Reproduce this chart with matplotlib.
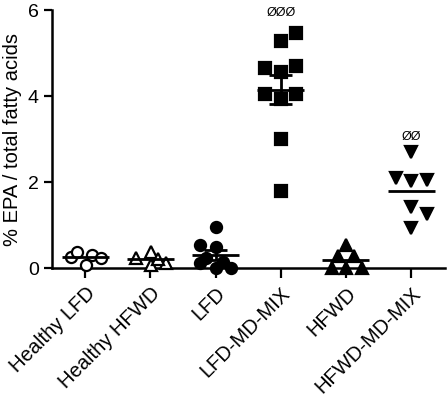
import matplotlib
matplotlib.use("Agg")
import matplotlib.pyplot as plt
import numpy as np

plt.rcParams['font.family'] = ['Liberation Sans', 'DejaVu Sans']

# groups and individual values (% EPA / total fatty acids)
groups = ['Healthy LFD', 'Healthy HFWD', 'LFD', 'LFD-MD-MIX', 'HFWD', 'HFWD-MD-MIX']
healthy_lfd = [0.27, 0.39, 0.08, 0.31, 0.23]
healthy_hfwd = [0.25, 0.39, 0.08, 0.12, 0.22]
lfd = [0.97, 0.54, 0.50, 0.23, 0.15, 0.12, 0.0, 0.0]
lfd_md_mix = [5.46, 5.29, 4.65, 4.57, 4.71, 4.06, 4.06, 3.93, 3.00, 1.80]
hfwd = [0.54, 0.29, 0.29, 0.0, 0.0, 0.0]
hfwd_md_mix = [2.71, 2.10, 2.03, 2.05, 1.43, 1.26, 0.93]
# horizontal scatter offsets (in category units) to mimic the dot layout
offsets = [
    [-0.22, -0.12, 0.01, 0.11, 0.24],
    [-0.22, 0.01, 0.01, 0.24, 0.12],
    [0.01, -0.24, 0.01, -0.14, 0.11, -0.24, 0.01, 0.24],
    [0.24, 0.0, -0.24, 0.0, 0.24, -0.24, 0.24, 0.0, 0.0, 0.0],
    [0.0, -0.12, 0.12, -0.22, 0.0, 0.24],
    [0.0, -0.23, 0.0, 0.24, 0.0, 0.24, 0.0],
]
stars = ['', '', '', 'ØØØ', '', 'ØØ']
star_y = [0, 0, 0, 5.93, 0, 3.04]
show_sem = [False, False, True, True, False, False]

data = [healthy_lfd, healthy_hfwd, lfd, lfd_md_mix, hfwd, hfwd_md_mix]
markers = ['o', '^', 'o', 's', '^', 'v']
filled = [False, False, True, True, True, True]

fig = plt.figure(figsize=(4.47, 3.96), dpi=100)
ax = fig.add_axes([0.1163, 0.3225, 0.8792, 0.6522])

for i, vals in enumerate(data):
    vals = np.array(vals)
    xs = i + np.array(offsets[i])
    ax.plot(xs, vals, linestyle='none', marker=markers[i], markersize=8,
            markerfacecolor='black' if filled[i] else 'white',
            markeredgecolor='black', markeredgewidth=1.6, clip_on=False, zorder=3)
    m = vals.mean()
    ax.hlines(m, i - 0.36, i + 0.36, color='black', lw=2, zorder=4)
    if show_sem[i]:
        sem = vals.std(ddof=1) / np.sqrt(len(vals))
        ax.vlines(i, m - sem, m + sem, color='black', lw=2, zorder=4)
        ax.hlines([m - sem, m + sem], i - 0.18, i + 0.18, color='black', lw=2, zorder=4)
    if stars[i]:
        ax.text(i, star_y[i], stars[i], ha='center', va='center', fontsize=9)

ax.set_xlim(-0.51, 5.52)
ax.set_ylim(0, 6)
ax.set_yticks([0, 2, 4, 6])
ax.set_xticks(range(len(groups)))
ax.set_xticklabels(groups, rotation=45, ha='right', rotation_mode='anchor', fontsize=14.5)
ax.tick_params(axis='y', labelsize=14, width=1.6, length=6)
ax.tick_params(axis='x', width=1.6, length=7, pad=4)
ax.set_ylabel('% EPA / total fatty acids', fontsize=14.5, labelpad=4)
for s in ['top', 'right']:
    ax.spines[s].set_visible(False)
for s in ['left', 'bottom']:
    ax.spines[s].set_linewidth(1.8)

fig.savefig('out.png', dpi=100)
